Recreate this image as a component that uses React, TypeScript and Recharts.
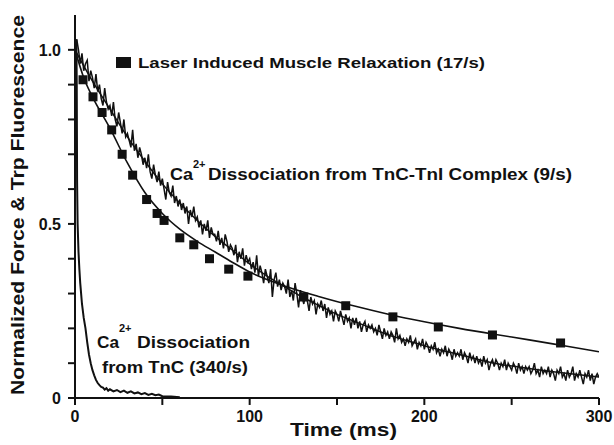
import React from 'react';
import { ComposedChart, Line, Scatter, XAxis, YAxis, ReferenceLine, Customized } from 'recharts';

// Laser induced muscle relaxation, normalized force (squares)
const forceTime = [4.6, 10.3, 15.5, 21, 27, 33, 41, 47, 51, 60, 68, 77, 88, 99, 131, 155, 182, 208, 239, 278];
const forceValue = [0.914, 0.865, 0.82, 0.77, 0.7, 0.64, 0.57, 0.53, 0.51, 0.46, 0.44, 0.4, 0.37, 0.35, 0.29, 0.265, 0.233, 0.204, 0.181, 0.158];

// fit through the force points
const forceFitTime = [0, 5, 10, 20, 30, 40, 50, 60, 70, 80, 90, 100, 120, 140, 160, 180, 200, 220, 240, 260, 280, 300];
const forceFitValue = [1.0, 0.92, 0.865, 0.775, 0.675, 0.59, 0.53, 0.485, 0.45, 0.42, 0.39, 0.362, 0.322, 0.291, 0.264, 0.24, 0.219, 0.2, 0.183, 0.167, 0.15, 0.133];

// Trp fluorescence, TnC-TnI complex, sampled every 1 ms from 0 to 300 ms
const complexStep = 1;
const complexTrace = [
  1.0, 1.03, 1.0, 0.96, 0.99, 0.94, 0.96, 0.97, 0.91, 0.94,
  0.92, 0.89, 0.93, 0.88, 0.9, 0.86, 0.84, 0.89, 0.85, 0.83,
  0.84, 0.81, 0.85, 0.8, 0.78, 0.82, 0.79, 0.76, 0.8, 0.75,
  0.76, 0.74, 0.72, 0.77, 0.71, 0.73, 0.69, 0.72, 0.7, 0.67,
  0.69, 0.66, 0.7, 0.65, 0.63, 0.67, 0.64, 0.62, 0.65, 0.61,
  0.63, 0.6, 0.57, 0.62, 0.59, 0.58, 0.61, 0.56, 0.58, 0.55,
  0.57, 0.54, 0.56, 0.53, 0.55, 0.5, 0.54, 0.52, 0.55, 0.51,
  0.52, 0.49, 0.51, 0.47, 0.5, 0.48, 0.51, 0.46, 0.49, 0.47,
  0.47, 0.45, 0.48, 0.44, 0.46, 0.43, 0.47, 0.45, 0.42, 0.44,
  0.43, 0.41, 0.44, 0.39, 0.42, 0.4, 0.43, 0.38, 0.41, 0.39,
  0.4, 0.37, 0.39, 0.36, 0.41, 0.35, 0.38, 0.36, 0.33, 0.37,
  0.35, 0.33, 0.37, 0.29, 0.34, 0.36, 0.32, 0.34, 0.31, 0.33,
  0.32, 0.3, 0.34, 0.29, 0.31, 0.28, 0.33, 0.3, 0.26, 0.31,
  0.29, 0.27, 0.3, 0.28, 0.25, 0.29, 0.27, 0.28, 0.24, 0.27,
  0.26, 0.28, 0.25, 0.27, 0.23, 0.26, 0.24, 0.25, 0.22, 0.25,
  0.24, 0.22, 0.25, 0.23, 0.21, 0.24, 0.22, 0.23, 0.2, 0.23,
  0.21, 0.23, 0.2, 0.22, 0.19, 0.21, 0.22, 0.19, 0.21, 0.2,
  0.21, 0.19, 0.2, 0.18, 0.21, 0.19, 0.17, 0.2, 0.18, 0.19,
  0.17, 0.19, 0.18, 0.16, 0.2, 0.17, 0.18, 0.16, 0.17, 0.15,
  0.17, 0.16, 0.18, 0.15, 0.16, 0.17, 0.14, 0.16, 0.15, 0.17,
  0.14, 0.16, 0.15, 0.13, 0.15, 0.14, 0.16, 0.13, 0.14, 0.12,
  0.14, 0.13, 0.15, 0.12, 0.14, 0.13, 0.11, 0.14, 0.12, 0.13,
  0.12, 0.14, 0.11, 0.13, 0.12, 0.1, 0.13, 0.11, 0.12, 0.1,
  0.12, 0.1, 0.11, 0.09, 0.12, 0.1, 0.11, 0.08, 0.1, 0.11,
  0.09, 0.11, 0.1, 0.08, 0.1, 0.09, 0.11, 0.08, 0.1, 0.09,
  0.08, 0.1, 0.09, 0.07, 0.1, 0.08, 0.09, 0.07, 0.09, 0.08,
  0.09, 0.07, 0.08, 0.1, 0.07, 0.08, 0.06, 0.09, 0.07, 0.08,
  0.07, 0.09, 0.06, 0.08, 0.07, 0.05, 0.08, 0.07, 0.09, 0.06,
  0.07, 0.05, 0.08, 0.06, 0.07, 0.09, 0.05, 0.07, 0.06, 0.08,
  0.06, 0.04, 0.07, 0.06, 0.08, 0.05, 0.07, 0.04, 0.06, 0.07,
  0.06,
];

// fit through the complex trace
const complexFitTime = [0, 10, 20, 30, 40, 50, 60, 70, 80, 90, 100, 110, 120, 130, 140, 150, 160, 170, 180, 190, 200, 220, 240, 260, 280, 300];
const complexFitValue = [1.0, 0.91, 0.83, 0.75, 0.68, 0.615, 0.56, 0.51, 0.465, 0.425, 0.385, 0.35, 0.32, 0.29, 0.265, 0.24, 0.22, 0.2, 0.18, 0.165, 0.15, 0.125, 0.1, 0.085, 0.072, 0.06];

// Trp fluorescence, isolated TnC (fast)
const tncTime = [0.8, 1.0, 1.2, 1.5, 2, 2.5, 3, 3.5, 4, 5, 6, 7, 8, 9, 10, 11, 12, 13, 14, 15, 16, 17, 18, 19, 20, 22, 24, 26, 28, 30, 32, 34, 36, 38, 40, 42, 44, 46, 48, 50, 55, 60];
const tncValue = [1.03, 0.9, 0.62, 0.5, 0.42, 0.37, 0.33, 0.3, 0.27, 0.23, 0.2, 0.16, 0.125, 0.1, 0.08, 0.065, 0.052, 0.043, 0.037, 0.032, 0.03, 0.024, 0.028, 0.021, 0.025, 0.019, 0.023, 0.017, 0.021, 0.015, 0.019, 0.013, 0.016, 0.011, 0.014, 0.009, 0.012, 0.008, 0.01, 0.005, 0.004, 0.002];

const xTicks = [0, 50, 100, 150, 200, 250, 300];
const xLabels = ['0', '100', '200', '300'];
const yTicks = [0, 0.1, 0.2, 0.3, 0.4, 0.5, 0.6, 0.7, 0.8, 0.9, 1.0];
const yLabels: Record<string, string> = { '0': '0', '0.5': '0.5', '1': '1.0' };

const forceData = forceTime.map((t, i) => ({ t, y: forceValue[i] }));
const forceFit = forceFitTime.map((t, i) => ({ t, y: forceFitValue[i] }));
const complexData = complexTrace.map((y, i) => ({ t: i * complexStep, y }));
const complexFit = complexFitTime.map((t, i) => ({ t, y: complexFitValue[i] }));
const tncData = tncTime.map((t, i) => ({ t, y: tncValue[i] }));

const font = '"Liberation Sans", Arial, Helvetica, sans-serif';
const ink = '#111';
// outward tick length, in data units (about 7 px each way)
const yTickLen = 4;
const xTickLen = 0.02;

const XTick = (props: any) => {
  const { x, y, payload } = props;
  const label = String(payload.value);
  if (!xLabels.includes(label)) return <g />;
  return (
    <text x={x} y={y} dy={13} textAnchor="middle" fontFamily={font} fontWeight="bold" fontSize={16} fill={ink}>
      {label}
    </text>
  );
};

const YTick = (props: any) => {
  const { x, y, payload } = props;
  const label = yLabels[String(Math.round(payload.value * 10) / 10)];
  if (!label) return <g />;
  return (
    <text x={x} y={y} dy={6} textAnchor="end" fontFamily={font} fontWeight="bold" fontSize={16} fill={ink}>
      {label}
    </text>
  );
};

const Square = (props: any) => {
  const { cx, cy } = props;
  return <rect x={cx - 4.5} y={cy - 4.5} width={9} height={9} fill={ink} />;
};

const Annotations = () => {
  const t = { fontFamily: font, fontWeight: 'bold' as const, fill: ink };
  return (
    <g>
      <rect x={116} y={57} width={15} height={11} fill={ink} />
      <text {...t} x={138} y={68} fontSize={15.5} textLength={347} lengthAdjust="spacingAndGlyphs">
        Laser Induced Muscle Relaxation (17/s)
      </text>

      <text {...t} x={170} y={180} fontSize={16} textLength={23} lengthAdjust="spacingAndGlyphs">Ca</text>
      <text {...t} x={193} y={168} fontSize={11}>2+</text>
      <text {...t} x={208} y={180} fontSize={16} textLength={364} lengthAdjust="spacingAndGlyphs">
        Dissociation from TnC-TnI Complex (9/s)
      </text>

      <text {...t} x={97} y={348} fontSize={16} textLength={22} lengthAdjust="spacingAndGlyphs">Ca</text>
      <text {...t} x={119} y={332} fontSize={11}>2+</text>
      <text {...t} x={137} y={348} fontSize={16} textLength={113} lengthAdjust="spacingAndGlyphs">Dissociation</text>
      <text {...t} x={102} y={373} fontSize={16} textLength={146} lengthAdjust="spacingAndGlyphs">from TnC (340/s)</text>

      <text {...t} x={290} y={436} fontSize={18} textLength={107} lengthAdjust="spacingAndGlyphs">Time (ms)</text>
      <text
        {...t}
        transform="translate(24, 205) rotate(-90)"
        textAnchor="middle"
        fontSize={18}
        textLength={380}
        lengthAdjust="spacingAndGlyphs"
      >
        Normalized Force &amp; Trp Fluorescence
      </text>
    </g>
  );
};

export default function App() {
  return (
    <div style={{ position: 'absolute', left: 0, top: 0, background: '#fff' }}>
      <ComposedChart width={614} height={445} margin={{ top: 15, right: 15, bottom: 0, left: 0 }}>
        <XAxis
          type="number"
          dataKey="t"
          domain={[0, 300]}
          ticks={xTicks}
          allowDataOverflow
          height={47}
          tickSize={7}
          tickMargin={4}
          axisLine={{ stroke: ink, strokeWidth: 2 }}
          tickLine={false}
          tick={<XTick />}
        />
        <YAxis
          type="number"
          dataKey="y"
          domain={[0, 1.1]}
          ticks={yTicks}
          allowDataOverflow
          width={75}
          tickSize={7}
          tickMargin={7}
          axisLine={{ stroke: ink, strokeWidth: 2 }}
          tickLine={false}
          tick={<YTick />}
        />
        {yTicks.map((v) => (
          <ReferenceLine
            key={'yt' + v}
            segment={[{ x: -yTickLen, y: v }, { x: 0, y: v }]}
            stroke={ink}
            strokeWidth={2}
            ifOverflow="visible"
          />
        ))}
        {xTicks.map((v) => (
          <ReferenceLine
            key={'xt' + v}
            segment={[{ x: v, y: -xTickLen }, { x: v, y: 0 }]}
            stroke={ink}
            strokeWidth={2}
            ifOverflow="visible"
          />
        ))}
        <Line data={complexData} dataKey="y" type="linear" stroke={ink} strokeWidth={1.5} dot={false} isAnimationActive={false} />
        <Line data={complexFit} dataKey="y" type="monotone" stroke={ink} strokeWidth={1.5} dot={false} isAnimationActive={false} />
        <Line data={forceFit} dataKey="y" type="monotone" stroke={ink} strokeWidth={1.6} dot={false} isAnimationActive={false} />
        <Line data={tncData} dataKey="y" type="linear" stroke={ink} strokeWidth={2} dot={false} isAnimationActive={false} />
        <Scatter data={forceData} dataKey="y" fill={ink} shape={<Square />} isAnimationActive={false} />
        <Customized component={Annotations} />
      </ComposedChart>
    </div>
  );
}
